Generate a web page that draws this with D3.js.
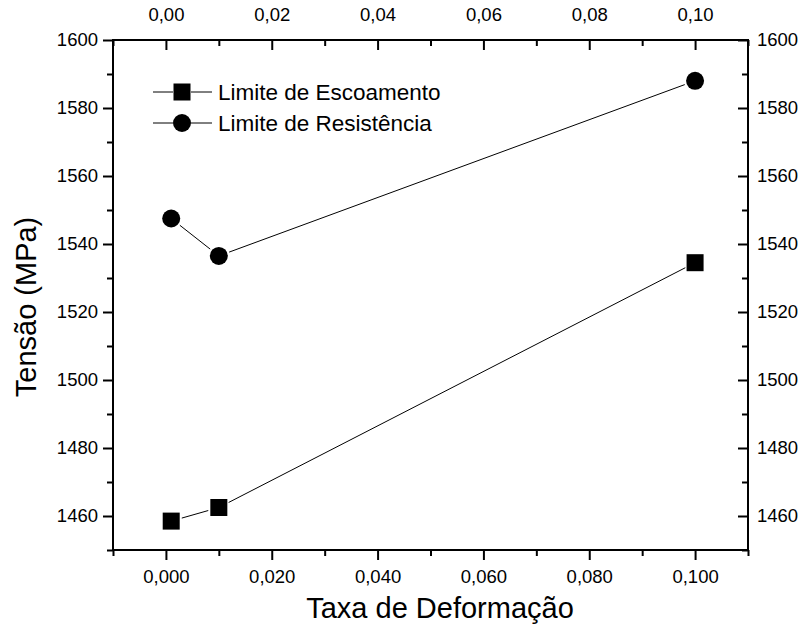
<!DOCTYPE html>
<html>
<head>
<meta charset="utf-8">
<script src="https://cdn.jsdelivr.net/npm/d3@7"></script>
<style>
html,body{margin:0;padding:0;background:#fff;}
svg{display:block;font-family:"Liberation Sans",Arial,sans-serif;}
</style>
</head>
<body>
<svg id="chart" width="809" height="630"></svg>
<script>
const strainRates = [0.001, 0.01, 0.1];
const escoamento = [1458.5, 1462.5, 1534.5];
const resistencia = [1547.5, 1536.5, 1588];
const seriesNames = ["Limite de Escoamento", "Limite de Resistência"];
const yTicks = [1460, 1480, 1500, 1520, 1540, 1560, 1580, 1600];
const yMinor = [1450, 1470, 1490, 1510, 1530, 1550, 1570, 1590];
const xTicks = [0, 0.02, 0.04, 0.06, 0.08, 0.10];
const xMinor = [-0.01, 0.01, 0.03, 0.05, 0.07, 0.09, 0.11];

const svg = d3.select("#chart");
const L = 113, R = 748, T = 40, B = 550;
const x = d3.scaleLinear().domain([-0.01, 0.11]).range([L, R]);
const y = d3.scaleLinear().domain([1450, 1600]).range([B, T]);

const fmt = (d, n) => d.toFixed(n).replace(".", ",");
const tickFont = 18.5;

function styleAxis(g) {
  g.select(".domain").remove();
  g.selectAll("line").attr("stroke", "#000").attr("stroke-width", 2);
  g.selectAll("text").attr("font-size", tickFont).attr("fill", "#000")
    .attr("font-family", "Liberation Sans, Arial, sans-serif");
}

// bottom axis (outward ticks)
svg.append("g").attr("transform", `translate(0,${B})`)
  .call(d3.axisBottom(x).tickValues(xTicks).tickSize(10).tickPadding(10).tickFormat(d => fmt(d, 3)))
  .call(styleAxis);
svg.append("g").attr("transform", `translate(0,${B})`)
  .call(d3.axisBottom(x).tickValues(xMinor).tickSize(6).tickFormat(""))
  .call(styleAxis);
// top axis (inward ticks)
svg.append("g").attr("transform", `translate(0,${T})`)
  .call(d3.axisTop(x).tickValues(xTicks).tickSize(-10).tickPadding(19).tickFormat(d => fmt(d, 2)))
  .call(styleAxis);
svg.append("g").attr("transform", `translate(0,${T})`)
  .call(d3.axisTop(x).tickValues(xMinor).tickSize(-6).tickFormat(""))
  .call(styleAxis);
// left axis (outward)
svg.append("g").attr("transform", `translate(${L},0)`)
  .call(d3.axisLeft(y).tickValues(yTicks).tickSize(10).tickPadding(5).tickFormat(d3.format("d")))
  .call(styleAxis);
svg.append("g").attr("transform", `translate(${L},0)`)
  .call(d3.axisLeft(y).tickValues(yMinor).tickSize(6).tickFormat(""))
  .call(styleAxis);
// right axis (inward ticks)
svg.append("g").attr("transform", `translate(${R},0)`)
  .call(d3.axisRight(y).tickValues(yTicks).tickSize(-10).tickPadding(9).tickFormat(d3.format("d")))
  .call(styleAxis);
svg.append("g").attr("transform", `translate(${R},0)`)
  .call(d3.axisRight(y).tickValues(yMinor).tickSize(-6).tickFormat(""))
  .call(styleAxis);

// frame
svg.append("rect").attr("x", L).attr("y", T).attr("width", R - L).attr("height", B - T)
  .attr("fill", "none").attr("stroke", "#000").attr("stroke-width", 2);

// series lines with gaps near markers
function drawSeries(vals, shape) {
  const pts = strainRates.map((s, i) => [x(s), y(vals[i])]);
  const gap = 11;
  for (let i = 0; i < pts.length - 1; i++) {
    const [x1, y1] = pts[i], [x2, y2] = pts[i + 1];
    const dx = x2 - x1, dy = y2 - y1, len = Math.hypot(dx, dy);
    if (len <= 2 * gap) continue;
    const ux = dx / len, uy = dy / len;
    svg.append("line")
      .attr("x1", x1 + ux * gap).attr("y1", y1 + uy * gap)
      .attr("x2", x2 - ux * gap).attr("y2", y2 - uy * gap)
      .attr("stroke", "#000").attr("stroke-width", 1);
  }
  pts.forEach(p => drawMarker(p[0], p[1], shape));
}
function drawMarker(cx, cy, shape) {
  if (shape === "square") {
    svg.append("rect").attr("x", cx - 8.5).attr("y", cy - 8.5).attr("width", 17).attr("height", 17).attr("fill", "#000");
  } else {
    svg.append("circle").attr("cx", cx).attr("cy", cy).attr("r", 9).attr("fill", "#000");
  }
}
drawSeries(escoamento, "square");
drawSeries(resistencia, "circle");

// legend
const legY = [92, 123];
["square", "circle"].forEach((shape, i) => {
  svg.append("line").attr("x1", 153).attr("x2", 173).attr("y1", legY[i]).attr("y2", legY[i]).attr("stroke", "#000").attr("stroke-width", 1);
  svg.append("line").attr("x1", 191).attr("x2", 212).attr("y1", legY[i]).attr("y2", legY[i]).attr("stroke", "#000").attr("stroke-width", 1);
  drawMarker(182, legY[i], shape);
  svg.append("text").attr("x", 218).attr("y", legY[i]).attr("dy", "0.35em")
    .attr("font-size", 22.5).text(seriesNames[i]);
});

// axis titles
svg.append("text").attr("x", 440).attr("y", 618).attr("text-anchor", "middle")
  .attr("font-size", 29).text("Taxa de Deformação");
svg.append("text").attr("transform", `translate(36,307) rotate(-90)`)
  .attr("text-anchor", "middle").attr("font-size", 29).text("Tensão (MPa)");
</script>
</body>
</html>
